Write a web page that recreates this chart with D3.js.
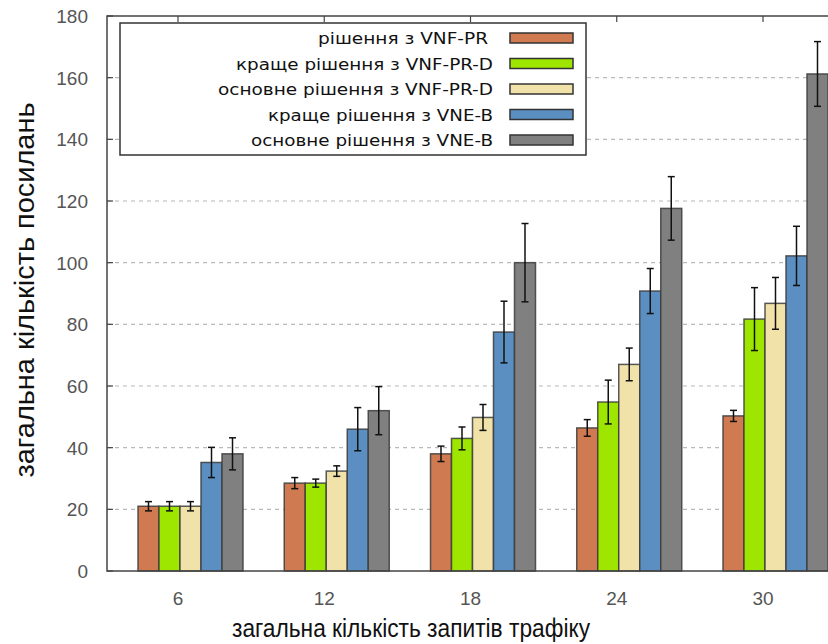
<!DOCTYPE html>
<html>
<head>
<meta charset="utf-8">
<script src="https://cdn.jsdelivr.net/npm/d3@7"></script>
<style>
  body { margin: 0; background: #fff; }
  svg { display: block; }
</style>
</head>
<body>
<div id="chart"></div>
<script>
// Data
const categories = ["6", "12", "18", "24", "30"];
const seriesNames = [
  "рішення з VNF-PR",
  "краще рішення з VNF-PR-D",
  "основне рішення з VNF-PR-D",
  "краще рішення з VNE-B",
  "основне рішення з VNE-B"
];
const seriesColors = ["#cf7a50", "#9ee600", "#f0e2a8", "#5b8fc2", "#808080"];

const vnfPr      = [21, 28.5, 38, 46.4, 50.3];
const vnfPrDBest = [21, 28.5, 43, 54.8, 81.7];
const vnfPrDBase = [21, 32.4, 49.8, 67, 86.8];
const vneBBest   = [35.2, 46, 77.5, 90.8, 102.2];
const vneBBase   = [38, 52, 100, 117.6, 161.2];

const vnfPrErr      = [1.5, 1.8, 2.5, 2.7, 1.8];
const vnfPrDBestErr = [1.5, 1.3, 3.7, 7.1, 10.2];
const vnfPrDBaseErr = [1.5, 1.7, 4.2, 5.3, 8.4];
const vneBBestErr   = [4.9, 7, 10, 7.3, 9.6];
const vneBBaseErr   = [5.2, 7.8, 12.7, 10.3, 10.5];

const yTicks = [0, 20, 40, 60, 80, 100, 120, 140, 160, 180];

const values = [vnfPr, vnfPrDBest, vnfPrDBase, vneBBest, vneBBase];
const errors = [vnfPrErr, vnfPrDBestErr, vnfPrDBaseErr, vneBBestErr, vneBBaseErr];

const width = 828, height = 644;
const plot = { left: 107, top: 16, bottom: 571, right: 840 };

const svg = d3.select("#chart")
  .append("svg")
  .attr("width", width)
  .attr("height", height);

const x = d3.scaleBand()
  .domain(categories)
  .range([138, 828])
  .paddingInner(0.282)
  .paddingOuter(0);

const xInner = d3.scaleBand()
  .domain(d3.range(seriesNames.length))
  .range([0, x.bandwidth()])
  .padding(0);

const y = d3.scaleLinear()
  .domain([0, 180])
  .range([plot.bottom, plot.top]);

// gnuplot puts the tic a bit left of the cluster centre
const tickX = d => x(d) + 40;

// Grid lines
svg.append("g")
  .selectAll("line")
  .data(yTicks.filter(t => t > 0 && t < 180))
  .enter()
  .append("line")
  .attr("x1", plot.left)
  .attr("x2", plot.right)
  .attr("y1", d => y(d))
  .attr("y2", d => y(d))
  .attr("stroke", "#b8b8b8")
  .attr("stroke-width", 1.2)
  .attr("stroke-dasharray", "4,4");

// Bars
const rows = [];
categories.forEach((c, i) => {
  values.forEach((s, j) => {
    rows.push({ cat: c, series: j, value: s[i], err: errors[j][i] });
  });
});

const bar = svg.append("g")
  .selectAll("g")
  .data(rows)
  .enter()
  .append("g");

bar.append("rect")
  .attr("x", d => x(d.cat) + xInner(d.series))
  .attr("y", d => y(d.value))
  .attr("width", xInner.bandwidth())
  .attr("height", d => y(0) - y(d.value))
  .attr("fill", d => seriesColors[d.series])
  .attr("stroke", "#3c3c3c")
  .attr("stroke-opacity", 0.85)
  .attr("stroke-width", 1.5);

// Error bars
const cx = d => x(d.cat) + xInner(d.series) + xInner.bandwidth() / 2;
bar.append("line")
  .attr("x1", cx).attr("x2", cx)
  .attr("y1", d => y(d.value + d.err))
  .attr("y2", d => y(d.value - d.err))
  .attr("stroke", "#111")
  .attr("stroke-width", 1.5);
bar.selectAll(".cap")
  .data(d => [d.value + d.err, d.value - d.err].map(v => ({ d, v })))
  .enter()
  .append("line")
  .attr("x1", p => cx(p.d) - 3.5)
  .attr("x2", p => cx(p.d) + 3.5)
  .attr("y1", p => y(p.v))
  .attr("y2", p => y(p.v))
  .attr("stroke", "#111")
  .attr("stroke-width", 1.5);

// Frame
svg.append("path")
  .attr("d", `M${plot.right},${plot.top}H${plot.left}V${plot.bottom}H${plot.right}`)
  .attr("stroke", "#444")
  .attr("stroke-width", 1.5)
  .attr("fill", "none");

// Y axis ticks + labels
svg.append("g")
  .selectAll("line")
  .data(yTicks)
  .enter()
  .append("line")
  .attr("x1", plot.left)
  .attr("x2", plot.left + 6)
  .attr("y1", d => y(d))
  .attr("y2", d => y(d))
  .attr("stroke", "#444")
  .attr("stroke-width", 1.2);

svg.append("g")
  .selectAll("text")
  .data(yTicks)
  .enter()
  .append("text")
  .attr("x", 88)
  .attr("y", d => y(d) + 7)
  .attr("text-anchor", "end")
  .attr("font-family", "Liberation Sans, Arial, sans-serif")
  .attr("font-size", 19)
  .attr("fill", "#555")
  .text(d => d);

// Top mirror ticks
svg.append("g")
  .selectAll("line")
  .data(categories)
  .enter()
  .append("line")
  .attr("x1", tickX).attr("x2", tickX)
  .attr("y1", plot.top).attr("y2", plot.top + 6)
  .attr("stroke", "#444")
  .attr("stroke-width", 1.2);

// X labels
svg.append("g")
  .selectAll("text")
  .data(categories)
  .enter()
  .append("text")
  .attr("x", tickX)
  .attr("y", 605)
  .attr("text-anchor", "middle")
  .attr("font-family", "Liberation Sans, Arial, sans-serif")
  .attr("font-size", 19)
  .attr("fill", "#555")
  .text(d => d);

// Axis titles
svg.append("text")
  .attr("x", 411)
  .attr("y", 637)
  .attr("text-anchor", "middle")
  .attr("font-family", "Liberation Sans, Arial, sans-serif")
  .attr("font-size", 26)
  .attr("textLength", 358)
  .attr("lengthAdjust", "spacingAndGlyphs")
  .attr("fill", "#111")
  .text("загальна кількість запитів трафіку");

svg.append("text")
  .attr("transform", "translate(34,290) rotate(-90)")
  .attr("text-anchor", "middle")
  .attr("font-family", "Liberation Sans, Arial, sans-serif")
  .attr("font-size", 27)
  .attr("textLength", 375)
  .attr("lengthAdjust", "spacingAndGlyphs")
  .attr("fill", "#111")
  .text("загальна кількість посилань");

// Legend
const legend = svg.append("g");
legend.append("rect")
  .attr("x", 120).attr("y", 23)
  .attr("width", 466).attr("height", 132)
  .attr("fill", "#fff")
  .attr("stroke", "#333")
  .attr("stroke-width", 1.5);

const legendWidths = [170, 257, 275, 225, 242];
const item = legend.selectAll("g.item")
  .data(seriesNames)
  .enter()
  .append("g")
  .attr("class", "item")
  .attr("transform", (d, i) => `translate(0,${38 + i * 25.5})`);

item.append("text")
  .attr("x", (d, i) => i === 0 ? 488 : 493)
  .attr("y", 6)
  .attr("text-anchor", "end")
  .attr("font-family", "DejaVu Sans, Verdana, sans-serif")
  .attr("font-size", 16.5)
  .attr("textLength", (d, i) => legendWidths[i])
  .attr("lengthAdjust", "spacingAndGlyphs")
  .attr("fill", "#111")
  .text(d => d);

item.append("rect")
  .attr("x", 510).attr("y", -5)
  .attr("width", 63).attr("height", 10)
  .attr("fill", (d, i) => seriesColors[i])
  .attr("stroke", "#333")
  .attr("stroke-width", 1.5);
</script>
</body>
</html>
